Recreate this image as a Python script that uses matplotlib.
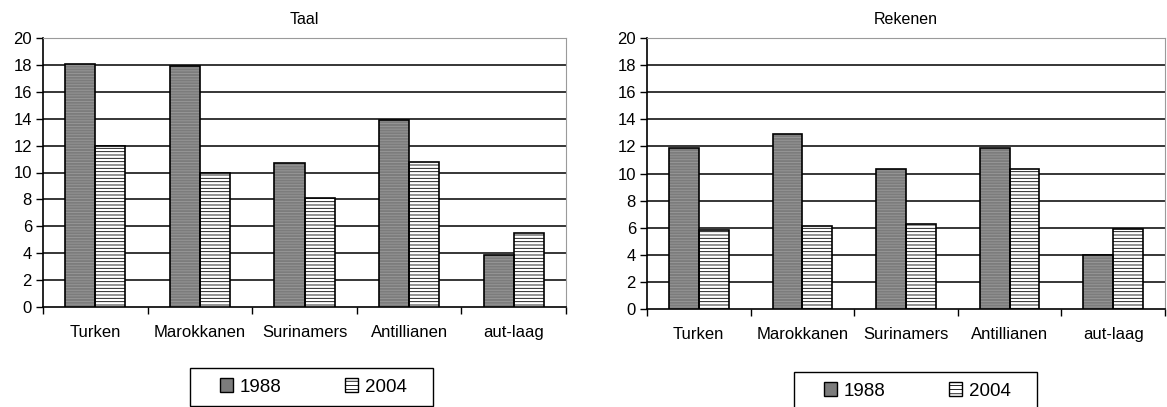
import numpy as np
import matplotlib
matplotlib.use("Agg")
import matplotlib.pyplot as plt
from matplotlib.patches import Patch, Rectangle

plt.rcParams["font.family"] = ["Liberation Sans", "DejaVu Sans"]
plt.rcParams["hatch.linewidth"] = 0.6

# data
groepen = ["Turken", "Marokkanen", "Surinamers", "Antillianen", "aut-laag"]
taal_1988 = [18.1, 17.9, 10.7, 13.9, 3.9]
taal_2004 = [12.0, 10.0, 8.1, 10.8, 5.5]
rekenen_1988 = [11.9, 12.9, 10.3, 11.9, 4.0]
rekenen_2004 = [5.8, 6.1, 6.3, 10.3, 5.9]
jaren = ["1988", "2004"]

W, H = 1167, 407
fig = plt.figure(figsize=(W / 100, H / 100), dpi=100)
ax1 = fig.add_axes([43 / W, 1 - 307 / H, 523 / W, 269 / H])
ax2 = fig.add_axes([647 / W, 1 - 309 / H, 518 / W, 271 / H])

w = 0.287
x = np.arange(len(groepen))


def bars(ax, pos, vals, face, hatch, hcol):
    # fill + hatch first, then a black outline on top
    ax.bar(pos, vals, w, color=face, edgecolor=hcol, hatch=hatch, linewidth=0, zorder=3)
    ax.bar(pos, vals, w, fill=False, edgecolor="black", linewidth=1.2, zorder=4)


def paneel(ax, titel, v88, v04):
    bars(ax, x - w / 2, v88, "#7c7c7c", "------", "#9a9a9a")
    bars(ax, x + w / 2, v04, "white", "-----", "black")
    ax.set_xlim(-0.5, 4.5)
    ax.set_ylim(0, 20)
    ax.set_yticks(range(0, 21, 2))
    ax.set_xticks(x)
    ax.set_xticklabels(groepen, fontsize=12)
    ax.set_xticks(np.arange(-0.5, 5, 1), minor=True)
    ax.tick_params(axis="x", which="major", length=0, pad=13)
    ax.tick_params(axis="x", which="minor", length=5, width=1, direction="out")
    ax.tick_params(axis="y", length=5, width=1, labelsize=12, pad=3)
    for g in range(2, 20, 2):
        ax.axhline(g, color="black", lw=1.1, zorder=1)
    ax.spines["top"].set_color("#9a9a9a")
    ax.spines["right"].set_color("#9a9a9a")
    ax.spines["left"].set_linewidth(1.2)
    ax.spines["bottom"].set_linewidth(1.2)
    ax.set_title(titel, fontsize=11.5, pad=10)


paneel(ax1, "Taal", taal_1988, taal_2004)
paneel(ax2, "Rekenen", rekenen_1988, rekenen_2004)

handles = [
    Patch(facecolor="#7c7c7c", edgecolor="black", label=jaren[0]),
    Patch(facecolor="white", edgecolor="black", hatch="----", label=jaren[1]),
]
# legend boxes: (left, top, width, height) in pixels
for bx, by, bw, bh in [(190, 368, 243, 38), (794, 372, 243, 40)]:
    fig.patches.append(Rectangle((bx / W, 1 - (by + bh) / H), bw / W, bh / H,
                                 transform=fig.transFigure, fill=False,
                                 edgecolor="black", linewidth=1.0))
    fig.legend(handles=handles, loc="center",
               bbox_to_anchor=((bx + bw / 2 + 2) / W, 1 - (by + 19) / H), ncol=2,
               fontsize=13.5, frameon=False, handlelength=0.7, handleheight=0.7,
               handletextpad=0.35, columnspacing=3.4, borderaxespad=0)

fig.savefig("out.png", dpi=100)
